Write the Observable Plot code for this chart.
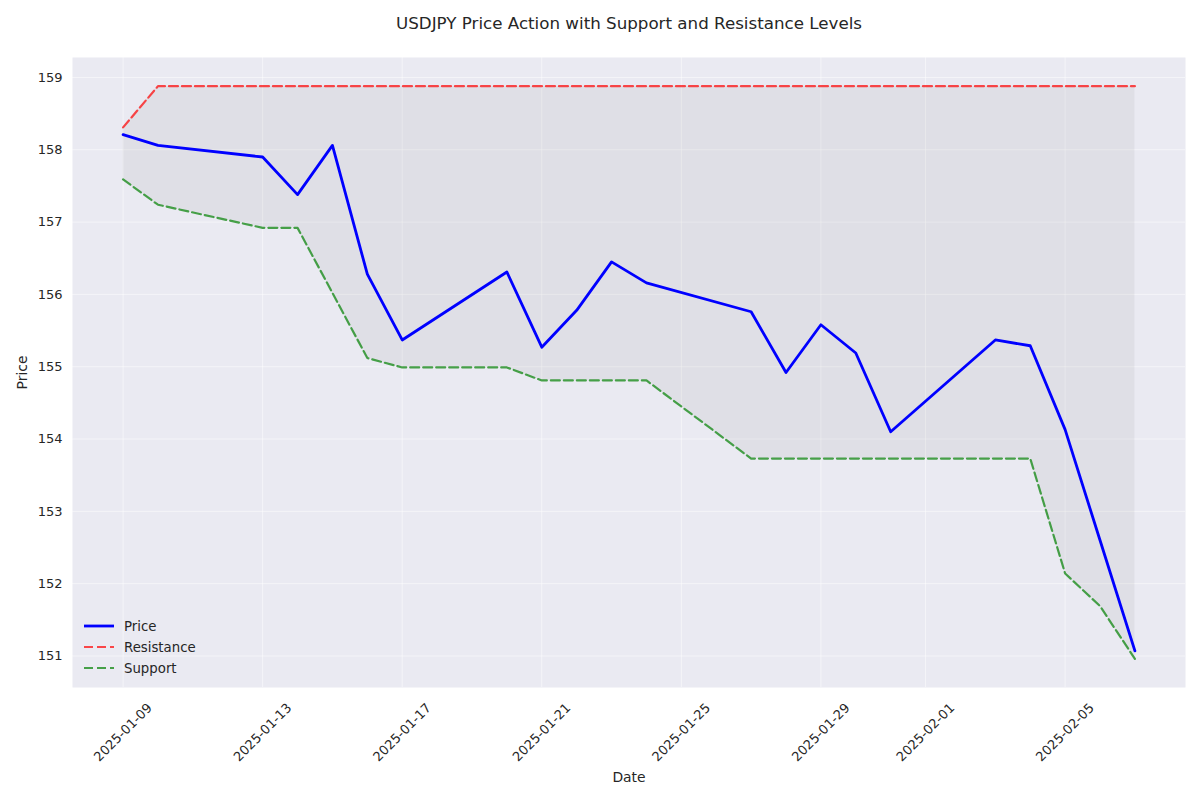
<!DOCTYPE html>
<html>
<head>
<meta charset="utf-8">
<script src="https://cdn.jsdelivr.net/npm/d3@7"></script>
<script src="https://cdn.jsdelivr.net/npm/@observablehq/plot@0.6"></script>
<style>
  html, body { margin: 0; padding: 0; background: white; }
  #chart svg { display: block; }
</style>
</head>
<body>
<div id="chart"></div>
<script>
// ---- data ----
const dates = ["2025-01-09","2025-01-10","2025-01-13","2025-01-14","2025-01-15","2025-01-16","2025-01-17",
  "2025-01-20","2025-01-21","2025-01-22","2025-01-23","2025-01-24","2025-01-27","2025-01-28","2025-01-29",
  "2025-01-30","2025-01-31","2025-02-03","2025-02-04","2025-02-05","2025-02-06","2025-02-07"];
const price = [158.21,158.06,157.90,157.38,158.06,156.28,155.37,156.31,155.27,155.78,156.45,156.16,155.76,
  154.92,155.58,155.19,154.10,155.37,155.29,154.13,152.60,151.07];
const resistance = [158.31,158.88,158.88,158.88,158.88,158.88,158.88,158.88,158.88,158.88,158.88,158.88,158.88,
  158.88,158.88,158.88,158.88,158.88,158.88,158.88,158.88,158.88];
const support = [157.59,157.24,156.92,156.92,156.02,155.12,154.99,154.99,154.81,154.81,154.81,154.81,153.73,
  153.73,153.73,153.73,153.73,153.73,153.73,152.14,151.69,150.96];
const xTickLabels = ["2025-01-09","2025-01-13","2025-01-17","2025-01-21","2025-01-25","2025-01-29","2025-02-01","2025-02-05"];
const yTicks = [151,152,153,154,155,156,157,158,159];
const seriesNames = ["Price","Resistance","Support"];
const titleText = "USDJPY Price Action with Support and Resistance Levels";
const xLabel = "Date";
const yLabel = "Price";

// ---- table ----
const rows = dates.map((d, i) => ({date: new Date(d), price: price[i], resistance: resistance[i], support: support[i]}));
const xTicks = xTickLabels.map(d => new Date(d));

const x0 = rows[0].date.getTime(), x1 = rows[rows.length - 1].date.getTime();
const xPad = (x1 - x0) * 0.05;
const yMin = d3.min([...price, ...support]), yMax = d3.max([...price, ...resistance]);
const yPad = (yMax - yMin) * 0.05;

const font = "DejaVu Sans, sans-serif";
const textColor = "#262626";
const styles = {
  Price: {stroke: "blue", opacity: 1, width: 2.8, dash: null},
  Resistance: {stroke: "red", opacity: 0.7, width: 2.2, dash: "9,4"},
  Support: {stroke: "green", opacity: 0.7, width: 2.2, dash: "9,4"}
};

function legendMark(index, scales, values, dims) {
  const g = d3.create("svg:g").attr("font-family", font).attr("font-size", 13.3)
    .attr("fill", textColor).attr("text-anchor", "start");
  const left = dims.marginLeft;
  const bottom = dims.height - dims.marginBottom;
  const offsets = [-61, -40, -19];
  seriesNames.forEach((name, i) => {
    const s = styles[name];
    const y = bottom + offsets[i];
    g.append("line")
      .attr("x1", left + 12).attr("x2", left + 42).attr("y1", y).attr("y2", y)
      .attr("stroke", s.stroke).attr("stroke-opacity", s.opacity)
      .attr("stroke-width", s.width).attr("stroke-dasharray", s.dash);
    g.append("text").attr("x", left + 52).attr("y", y).attr("dy", "0.35em")
      .attr("text-anchor", "start").text(name);
  });
  return g.node();
}

const chart = Plot.plot({
  width: 1200,
  height: 800,
  marginLeft: 72,
  marginRight: 15,
  marginTop: 57,
  marginBottom: 113,
  style: {background: "white", fontFamily: font, color: textColor, overflow: "visible"},
  x: {type: "utc", domain: [new Date(x0 - xPad), new Date(x1 + xPad)], axis: null},
  y: {domain: [yMin - yPad, yMax + yPad], axis: null},
  marks: [
    Plot.frame({fill: "#eaeaf2", stroke: null}),
    Plot.gridX(xTicks, {stroke: "white", strokeOpacity: 0.5, strokeWidth: 1}),
    Plot.gridY(yTicks, {stroke: "white", strokeOpacity: 0.5, strokeWidth: 1}),
    Plot.areaY(rows, {x: "date", y1: "support", y2: "resistance", fill: "gray", fillOpacity: 0.1}),
    Plot.lineY(rows, {x: "date", y: "price", stroke: styles.Price.stroke, strokeWidth: styles.Price.width}),
    Plot.lineY(rows, {x: "date", y: "resistance", stroke: styles.Resistance.stroke, strokeOpacity: styles.Resistance.opacity,
      strokeWidth: styles.Resistance.width, strokeDasharray: styles.Resistance.dash}),
    Plot.lineY(rows, {x: "date", y: "support", stroke: styles.Support.stroke, strokeOpacity: styles.Support.opacity,
      strokeWidth: styles.Support.width, strokeDasharray: styles.Support.dash}),
    Plot.axisY({ticks: yTicks, tickSize: 0, tickPadding: 10, fontSize: 13, label: null, tickFormat: d => String(d), fill: textColor}),
    Plot.text(xTicks, {x: d => d, text: (d, i) => xTickLabels[i], frameAnchor: "bottom", dy: 45, rotate: -45,
      fontSize: 13, fill: textColor, textAnchor: "middle", lineAnchor: "middle"}),
    Plot.text([xLabel], {text: d => d, frameAnchor: "bottom", dy: 90, fontSize: 13.9, fill: textColor,
      textAnchor: "middle", lineAnchor: "middle"}),
    Plot.text([yLabel], {text: d => d, frameAnchor: "left", dx: -50, rotate: -90, fontSize: 13.9, fill: textColor,
      textAnchor: "middle", lineAnchor: "middle"}),
    Plot.text([titleText], {text: d => d, frameAnchor: "top", dy: -34, fontSize: 16.7, fill: textColor,
      textAnchor: "middle", lineAnchor: "middle"}),
    legendMark
  ]
});
document.getElementById("chart").appendChild(chart);
</script>
</body>
</html>
